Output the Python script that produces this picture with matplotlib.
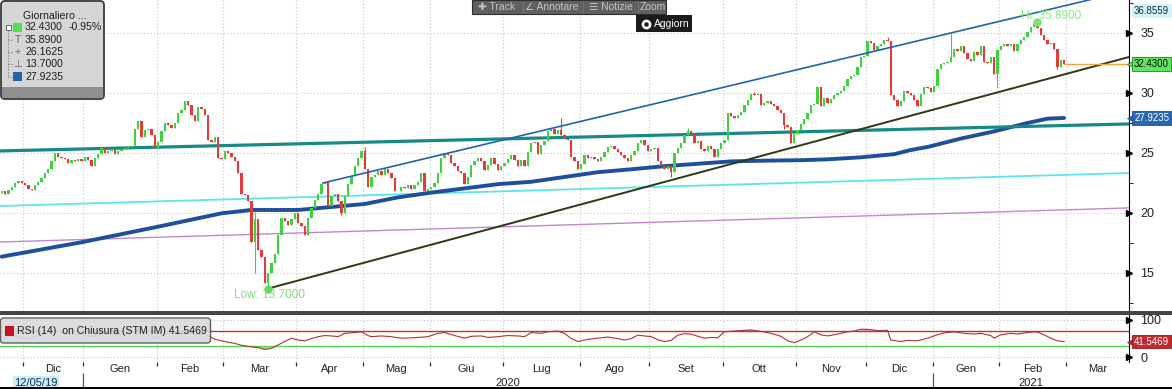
import numpy as np
import matplotlib
matplotlib.use("Agg")
import matplotlib.pyplot as plt
from matplotlib.patches import Rectangle, FancyBboxPatch
from matplotlib.transforms import blended_transform_factory

plt.rcParams['font.family'] = ['Liberation Sans', 'DejaVu Sans']

# ---------------- data ----------------
# daily closes STM IM, 21 Nov 2019 -> 26 Feb 2021 (trading days)
closes = [
    21.8, 21.6, 21.9, 22.2, 22.5, 22.7, 22.5, 22.3, 22.0, 21.9,
    22.3, 22.6, 22.9, 23.3, 23.7, 24.3, 25.0, 24.7, 24.6, 24.5,
    24.2, 24.4, 24.3, 24.5, 24.3, 24.7, 24.4, 23.9, 24.6, 24.9,
    25.4, 25.0, 25.2, 25.3, 24.9, 25.2, 25.3, 25.4, 25.5, 25.6,
    27.0, 27.7, 26.3, 26.9, 27.0, 26.5, 25.4, 25.9, 26.8, 27.5,
    27.3, 27.1, 27.5, 28.3, 28.6, 29.3, 29.0, 28.2, 27.7, 28.8,
    28.7, 28.2, 26.1, 25.9, 26.3, 24.6, 24.5, 25.2, 25.0, 24.7,
    24.3, 23.3, 21.6, 21.5, 21.0, 17.6, 19.5, 16.9, 16.3, 14.2,
    15.0, 15.8, 16.6, 18.2, 19.6, 19.3, 19.0, 19.5, 20.0, 19.2,
    18.9, 18.2, 19.6, 20.4, 21.1, 21.6, 22.4, 22.6, 20.6, 21.4,
    21.6, 21.0, 20.0, 21.4, 22.4, 23.1, 23.9, 24.6, 25.2, 23.7,
    22.2, 23.0, 23.2, 23.5, 23.2, 23.7, 23.3, 22.9, 21.8, 21.8,
    22.2, 22.1, 22.3, 22.0, 22.3, 22.6, 23.3, 21.8, 22.0, 22.2,
    22.5, 23.3, 24.6, 25.0, 24.8, 24.2, 23.9, 23.5, 23.3, 22.4,
    23.0, 24.0, 24.3, 24.6, 24.3, 23.6, 24.0, 24.6, 24.1, 23.6,
    23.9, 24.2, 24.5, 24.8, 24.4, 23.9, 24.4, 23.9, 25.1, 25.8,
    25.9, 24.9, 25.7, 26.0, 26.8, 27.0, 26.6, 26.9, 26.5, 26.2,
    26.1, 24.7, 24.3, 23.7, 24.1, 24.8, 24.6, 24.7, 24.5, 24.3,
    24.7, 25.1, 25.5, 25.6, 25.3, 25.1, 24.8, 24.6, 24.3, 24.8,
    25.2, 25.8, 26.1, 25.7, 25.2, 25.3, 25.4, 24.3, 23.9, 23.7,
    23.9, 23.4, 25.0, 25.4, 25.8, 26.5, 26.8, 26.7, 25.8, 26.0,
    25.3, 25.2, 25.6, 25.3, 24.7, 25.3, 25.8, 26.1, 28.3, 28.1,
    27.9, 28.2, 28.4, 29.0, 29.4, 29.9, 29.8, 29.9, 29.0, 29.2,
    29.3, 29.1, 28.9, 28.6, 28.3, 27.3, 27.2, 25.8, 26.6, 26.9,
    27.4, 27.8, 28.3, 29.0, 29.1, 30.5, 28.9, 29.6, 29.2, 29.5,
    29.8, 30.0, 30.2, 30.6, 31.2, 31.4, 31.5, 32.2, 33.0, 33.1,
    34.3, 34.2, 33.6, 33.9, 34.1, 34.4, 34.3, 29.8, 29.4, 28.9,
    29.3, 30.2, 30.0, 29.8, 29.4, 28.9, 29.9, 30.5, 30.4, 30.1,
    30.6, 32.0, 32.4, 32.5, 32.6, 33.0, 33.7, 33.5, 33.9, 33.3,
    32.8, 32.7, 33.4, 33.2, 33.9, 32.6, 32.5, 33.0, 31.6, 33.6,
    33.9, 34.1, 33.9, 34.1, 33.5, 34.1, 34.4, 34.7, 35.1, 35.5,
    35.8, 35.4, 34.8, 34.4, 34.1, 34.2, 33.7, 32.2, 32.74, 32.43,
]
first_open = 21.7
wick_high = {72: 22.7, 76: 20.1, 109: 25.5, 168: 27.9, 206: 27.1,
             226: 30.1, 266: 34.7, 285: 35.0, 311: 35.89}
wick_low = {76: 15.0, 80: 13.7, 102: 19.8, 201: 23.0, 235: 27.0,
            299: 30.4, 317: 32.0}

# 200-day moving average (read at sample days)
ma_days = [0, 24, 47, 66, 75, 89, 99, 109, 119, 129, 139, 149, 159, 169,
           179, 189, 199, 209, 219, 229, 240, 248, 258, 268, 273, 278,
           288, 298, 308, 314, 319]
ma_vals = [16.36, 17.56, 18.86, 19.97, 20.25, 20.25, 20.5, 20.75, 21.3,
           21.7, 22.05, 22.4, 22.6, 23.0, 23.4, 23.64, 23.9, 24.1, 24.3,
           24.36, 24.4, 24.47, 24.64, 24.9, 25.25, 25.5, 26.2, 26.8, 27.5,
           27.86, 27.92]

# RSI(14)
rsi_days = [0, 4, 7, 10, 14, 16, 19, 24, 27, 30, 35, 39, 41, 43, 46, 50, 55,
            58, 61, 64, 67, 70, 72, 75, 77, 79, 81, 83, 85, 87, 89, 91, 93,
            95, 97, 99, 101, 103, 106, 108, 110, 111, 114, 117, 119, 121,
            123, 125, 128, 131, 133, 136, 139, 141, 144, 146, 149, 152, 155,
            157, 159, 162, 164, 167, 169, 171, 173, 176, 179, 182, 185, 187,
            189, 191, 193, 195, 197, 199, 201, 203, 205, 207, 209, 211, 213,
            215, 217, 220, 223, 225, 228, 231, 234, 236, 238, 240, 242, 244,
            246, 248, 251, 254, 256, 258, 261, 263, 266, 267, 270, 272, 275,
            278, 281, 283, 286, 289, 292, 294, 297, 298, 300, 303, 305, 308,
            310, 311, 313, 315, 317, 319]
rsi_vals = [52, 58, 50, 55, 66, 72, 62, 60, 55, 63, 60, 64, 75, 66, 52, 62,
            70, 60, 62, 48, 42, 37, 32, 28, 26, 21, 24, 33, 42, 51, 46, 44,
            50, 55, 58, 57, 55, 64, 66, 68, 58, 55, 57, 55, 52, 51, 52, 53,
            55, 64, 66, 58, 51, 56, 57, 53, 55, 58, 57, 55, 66, 64, 68, 70,
            64, 50, 42, 48, 51, 54, 50, 46, 50, 59, 57, 55, 47, 42, 45, 59,
            63, 62, 56, 51, 53, 52, 68, 70, 72, 73, 69, 64, 56, 44, 39, 46,
            55, 68, 60, 57, 62, 68, 70, 75, 74, 71, 72, 46, 42, 45, 44, 51,
            60, 65, 68, 64, 62, 64, 58, 51, 60, 64, 62, 66, 68, 67, 60, 51,
            44, 41.5469]

month_names = ['Nov', 'Dic', 'Gen', 'Feb', 'Mar', 'Apr', 'Mag', 'Giu', 'Lug',
               'Ago', 'Set', 'Ott', 'Nov', 'Dic', 'Gen', 'Feb', 'Mar']
month_days = [7, 18, 22, 20, 22, 20, 20, 22, 23, 21, 22, 22, 21, 20, 20, 20, 19]

teal_line = [(-0.5, 25.17), (338.5, 27.42)]
cyan_line = [(-0.5, 20.58), (338.5, 23.33)]
purple_line = [(-0.5, 17.58), (338.5, 20.42)]
support_line = [(80, 13.7), (338.5, 33.0)]
channel_line = [(96.5, 22.5), (338.5, 38.55)]
last_price = 32.43

# ---------------- figure ----------------
W, H = 1172, 389
fig = plt.figure(figsize=(W / 100, H / 100), dpi=100)
fig.patch.set_facecolor('white')
aw = 1129 / W
ax = fig.add_axes([0, 1 - 311 / H, aw, 311 / H])
ax_r = fig.add_axes([0, 1 - 362 / H, aw, 47 / H])
ax_d = fig.add_axes([0, 0, aw, 27 / H])
XL = (-0.51, 338.5)

days = np.arange(len(closes))
c = np.array(closes)
o = np.concatenate([[first_open], c[:-1]])
hi = np.maximum(o, c)
lo = np.minimum(o, c)
for d, v in wick_high.items():
    hi[d] = v
for d, v in wick_low.items():
    lo[d] = v

GREEN, RED = '#3fd23f', '#e23b3b'
cols = [GREEN if cc >= oo else RED for oo, cc in zip(o, c)]
body = np.maximum(np.abs(c - o), 0.07)

starts = np.concatenate([[0], np.cumsum(month_days)[:-1]])
bounds = starts[1:] - 0.5
centers = starts + np.array(month_days) / 2 - 0.5

# price panel
for a in (ax, ax_r):
    a.set_xlim(*XL)
    a.set_xticks(bounds)
    a.tick_params(axis='x', length=0, labelbottom=False)
    a.grid(True, ls=(0, (1, 2)), color='#c4c4c4', lw=0.8)
    for s in ('left', 'top', 'bottom'):
        a.spines[s].set_visible(False)
    a.spines['right'].set_color('black')
    a.yaxis.tick_right()
    a.set_axisbelow(True)

ax.set_ylim(11.83, 37.75)
ax.set_yticks([15, 20, 25, 30, 35])
ax.set_yticks([12.5, 17.5, 22.5, 27.5, 32.5, 37.5], minor=True)
ax.tick_params(axis='y', which='major', length=0, pad=8, labelsize=9, labelcolor='#222222')
ax.tick_params(axis='y', which='minor', length=3, color='black')
tr = blended_transform_factory(ax.transAxes, ax.transData)
ax.plot([1.0] * 5, [15, 20, 25, 30, 35], '>', ms=4, color='black', transform=tr, clip_on=False)

ax.plot(*zip(*purple_line), color='#c585cf', lw=1.0, zorder=2)
ax.plot(*zip(*cyan_line), color='#5ce3ec', lw=1.3, zorder=2)
ax.plot(ma_days, ma_vals, color='#1d4f9c', lw=2.8, zorder=2, solid_capstyle='round')
ax.plot(*zip(*teal_line), color='#168a88', lw=2.3, zorder=2)
ax.plot(*zip(*support_line), color='#2c3a10', lw=1.4, zorder=4)
ax.plot(*zip(*channel_line), color='#2262ae', lw=1.2, zorder=4)

ax.vlines(days, lo, hi, colors=cols, lw=0.8, zorder=3)
ax.bar(days, body, bottom=np.minimum(o, c), width=0.7, color=cols, zorder=3)

ax.plot([days[-1], XL[1]], [last_price, last_price], color='#f2a53a', lw=1.0, zorder=4)
ax.plot(311, 35.89, 'o', ms=5, color='#7fde7f', zorder=5)
ax.text(315, 36.45, 'Hi: 35.8900', color='#93e293', ha='center', va='center', fontsize=8.5, zorder=5)
ax.plot(80, 13.7, 'o', ms=5, color='#62d862', zorder=5)
ax.text(80.5, 13.15, 'Low: 13.7000', color='#7fdc7f', ha='center', va='center', fontsize=8.5, zorder=5)

# value tags on the price scale
def tag(a, y, txt, fc, tc, ec, arrow=True):
    t = blended_transform_factory(a.transAxes, a.transData)
    if arrow:
        a.plot(1.0025, y, '<', ms=6.5, color=fc, mec=ec, mew=0.6, transform=t, clip_on=False, zorder=6)
    a.text(1.0045, y, txt, transform=t, ha='left', va='center', fontsize=7.0, color=tc, zorder=7,
           bbox=dict(boxstyle='square,pad=0.18', fc=fc, ec=ec, lw=0.6), clip_on=False)

tag(ax, 36.8559, '36.8559', '#d2f3f8', '#1a2a3a', '#d2f3f8', arrow=False)
tag(ax, last_price, '32.4300', '#5fe65f', '#0a0a0a', '#2c7a2c')
tag(ax, ma_vals[-1], '27.9235', '#2a67b3', 'white', '#1d4f9c')

# RSI panel
ax_r.set_ylim(-12.5, 112.8)
ax_r.set_yticks([0, 100])
ax_r.tick_params(axis='y', length=0, pad=8, labelsize=9, labelcolor='#222222')
trr = blended_transform_factory(ax_r.transAxes, ax_r.transData)
ax_r.plot([1.0, 1.0], [0, 100], '>', ms=4, color='black', transform=trr, clip_on=False)
ax_r.axhline(70, color='#d42a2a', lw=1.0)
ax_r.axhline(30, color='#52d352', lw=1.0)
rv = np.array(rsi_vals, dtype=float)
ax_r.fill_between(rsi_days, rv, 30, where=rv < 30, interpolate=True, color='#9ee89e', lw=0)
ax_r.fill_between(rsi_days, rv, 70, where=rv > 70, interpolate=True, color='#f3b3b3', lw=0)
ax_r.plot(rsi_days, rv, color='#a8343a', lw=0.8)
tag(ax_r, rsi_vals[-1], '41.5469', '#c22a30', 'white', '#8e1a1e')

# date strip
ax_d.set_xlim(*XL)
ax_d.set_ylim(27, 0)
ax_d.axis('off')
ax_d.vlines(bounds, 0, 4, color='#333333', lw=0.9)
for name, cx in list(zip(month_names, centers))[1:]:
    ax_d.text(cx, 7.5, name, ha='center', va='center', fontsize=8, color='#222222')
ax_d.vlines([starts[2] - 0.5, starts[14] - 0.5], 11, 26, color='#555555', lw=0.9)
ax_d.text(10.3, 20.5, '12/05/19', ha='center', va='center', fontsize=8, color='#1a2a5a',
          bbox=dict(boxstyle='square,pad=0.1', fc='#c9f0f7', ec='none'))
ax_d.text(152, 20.5, '2020', ha='center', va='center', fontsize=8, color='#222222')
ax_d.text(309, 20.5, '2021', ha='center', va='center', fontsize=8, color='#222222')

# overlay for widgets (pixel coordinates)
ov = fig.add_axes([0, 0, 1, 1], zorder=20)
ov.set_xlim(0, W)
ov.set_ylim(H, 0)
ov.axis('off')

ov.add_patch(Rectangle((0, 311), W, 3.5, fc='#454545', ec='none'))
ov.add_patch(Rectangle((0, 386.5), W, 2.5, fc='black', ec='none'))

# top-left legend
LF = 7.6
ov.add_patch(FancyBboxPatch((1, 1), 103, 98, boxstyle='round,pad=0,rounding_size=4',
                            fc='#d6d6d6', ec='#3a3a3a', lw=1.3))
ov.add_patch(Rectangle((1.7, 87), 101.6, 11.3, fc='#8f8f8f', ec='none'))
ov.text(23, 16, 'Giornaliero ...', fontsize=LF, va='center', color='#1e1e1e')
ov.plot([8, 8], [30, 77], ls=(0, (1, 1.5)), color='#777777', lw=0.8)
for yy in (40, 52, 64, 77):
    ov.plot([8, 12], [yy, yy], ls=(0, (1, 1.5)), color='#777777', lw=0.8)
ov.add_patch(Rectangle((5.5, 24.5), 5, 5, fc='white', ec='#666666', lw=0.7))
ov.add_patch(Rectangle((13, 22.5), 9, 9, fc='#4ee04e', ec='none'))
ov.text(25, 27, '32.4300', fontsize=LF, va='center', color='#1e1e1e')
ov.text(69, 27, '-0.95%', fontsize=LF, va='center', color='#1e1e1e')
ov.text(17.5, 40, 'T', fontsize=7.5, va='center', ha='center', color='#666666')
ov.text(25, 40, '35.8900', fontsize=LF, va='center', color='#1e1e1e')
ov.text(17.5, 52, '+', fontsize=7.5, va='center', ha='center', color='#666666')
ov.text(25, 52, '26.1625', fontsize=LF, va='center', color='#1e1e1e')
ov.text(17.5, 64, '⊥', fontsize=7.5, va='center', ha='center', color='#666666')
ov.text(25, 64, '13.7000', fontsize=LF, va='center', color='#1e1e1e')
ov.add_patch(Rectangle((13, 72), 9, 9, fc='#1f63b3', ec='none'))
ov.text(25, 77, '27.9235', fontsize=LF, va='center', color='#1e1e1e')

# toolbar
ov.add_patch(Rectangle((472, 0), 194, 14, fc='#606060', ec='#2e2e2e', lw=0.8))
for tx, lab in ((497, '✚ Track'), (552, '∠ Annotare'), (611, '☰ Notizie'), (653, 'Zoom')):
    ov.text(tx, 7, lab, fontsize=7.5, ha='center', va='center', color='#c4c4c4')
for sx in (523, 583, 638):
    ov.plot([sx, sx], [2, 12], color='#777777', lw=0.6)
ov.add_patch(Rectangle((636, 15), 56, 17, fc='#1b1b1b', ec='none'))
ov.plot(646, 23.5, 'o', ms=6, color='white')
ov.plot(646, 23.5, 'o', ms=2.2, color='#1b1b1b')
ov.text(654, 23.5, 'Aggiorn', fontsize=7.5, va='center', color='white')

# RSI legend
ov.add_patch(FancyBboxPatch((0.5, 318), 210, 25, boxstyle='round,pad=0,rounding_size=3',
                            fc='#dadada', ec='#555555', lw=1.0, alpha=0.92))
ov.add_patch(Rectangle((5, 326), 9, 10, fc='#c4141f', ec='none'))
ov.text(17, 331, 'RSI (14)  on Chiusura (STM IM) 41.5469', fontsize=7.6, va='center', color='#1e1e1e')

fig.savefig('out.png', dpi=100)
